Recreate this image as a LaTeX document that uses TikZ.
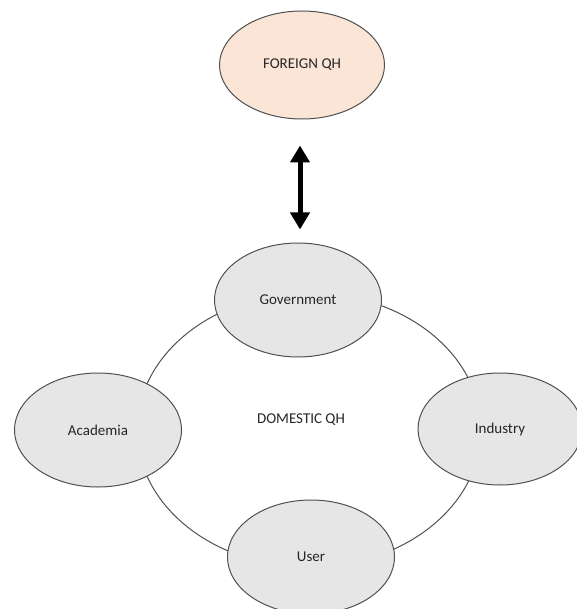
\documentclass[tikz,border=0pt]{standalone}
\usepackage{fontspec}
\setmainfont{Carlito}
\usetikzlibrary{shapes.geometric,arrows.meta}
\definecolor{peach}{HTML}{FBE5D6}
\definecolor{lightgrayfill}{HTML}{E7E6E6}
\definecolor{edgegray}{HTML}{505050}
\definecolor{textgray}{HTML}{262626}
\begin{document}
\begin{tikzpicture}[x=1pt,y=-1pt,
  actor/.style={ellipse, draw=edgegray, line width=1pt, fill=lightgrayfill,
    minimum width=167pt, minimum height=114pt, inner sep=0pt,
    text=textgray, font=\fontsize{15}{18}\selectfont},
  foreignqh/.style={actor, fill=peach, minimum width=165pt, minimum height=108pt},
  ring/.style={ellipse, draw=edgegray, line width=1pt,
    minimum width=344pt, minimum height=274pt, inner sep=0pt},
  bigarrow/.style={line width=5pt, {Triangle[width=19pt,length=17pt]}-{Triangle[width=19pt,length=17pt]}}
]
\useasboundingbox (0,0) rectangle (576,609);
% domestic ring behind the four actors
\node[ring] (ring) at (309,430) {};
\node[text=textgray, font=\fontsize{15}{18}\selectfont] (dom) at (301,420) {DOMESTIC QH};
% actors of the domestic quadruple helix
\node[actor] (gov) at (298,300) {Government};
\node[actor] (acad) at (98,430) {Academia};
\node[actor, minimum width=164pt, minimum height=112pt] (ind) at (500,429) {Industry};
\node[actor] (user) at (311,557) {User};
% foreign quadruple helix
\node[foreignqh] (foreign) at (302,65) {FOREIGN QH};
% exchange between foreign and domestic, kept vertical
\coordinate (atop) at ([xshift=-2pt,yshift=-26pt]foreign.south);
\coordinate (abot) at ([xshift=2pt,yshift=13pt]gov.north);
\draw[bigarrow] (atop) -- (abot);
\end{tikzpicture}
\end{document}
